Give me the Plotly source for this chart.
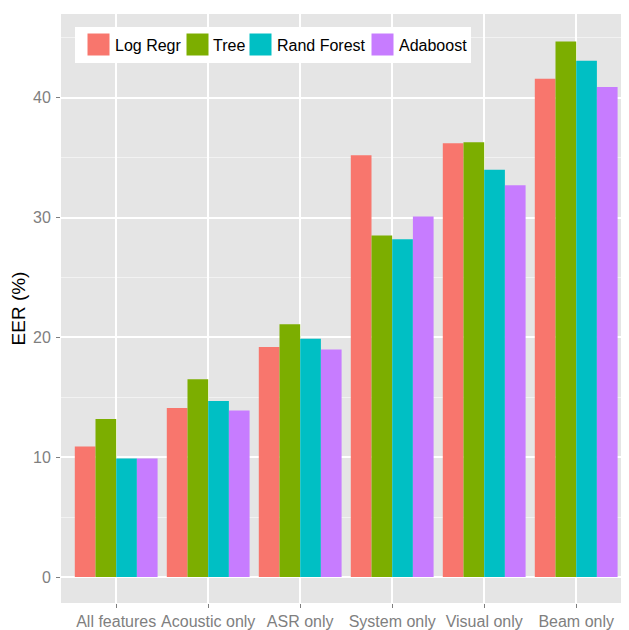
import plotly.graph_objects as go

categories = ["All features", "Acoustic only", "ASR only", "System only", "Visual only", "Beam only"]
series_names = ["Log Regr", "Tree", "Rand Forest", "Adaboost"]
log_regr = [10.9, 14.1, 19.2, 35.2, 36.2, 41.6]
tree = [13.2, 16.5, 21.1, 28.5, 36.3, 44.7]
rand_forest = [9.9, 14.7, 19.9, 28.2, 34.0, 43.1]
adaboost = [9.9, 13.9, 19.0, 30.1, 32.7, 40.9]
y_ticks = [0, 10, 20, 30, 40]

colors = ["#F8766D", "#7CAE00", "#00BFC4", "#C77CFF"]
values = [log_regr, tree, rand_forest, adaboost]

# page offset of the plot div (body margin) compensated
OFF = 8
W, H = 629 - OFF, 630 - OFF
PAN_L, PAN_T, PAN_B, PAN_R = 61, 14, 603, 629  # panel edges in page pixels
L, T = PAN_L - OFF, PAN_T - OFF
B = (OFF + H) - PAN_B
R = (OFF + W) - PAN_R
PW, PH = PAN_R - PAN_L, PAN_B - PAN_T

def px_x(p):
    return (p - PAN_L) / PW

def px_y(p):
    return (PAN_B - p) / PH

fig = go.Figure()
for name, vals, c in zip(series_names, values, colors):
    fig.add_trace(go.Bar(x=categories, y=vals, name=name, marker=dict(color=c, line=dict(width=0)),
                         showlegend=False))

FONT = "Liberation Sans, Arial, sans-serif"

fig.update_layout(
    width=W, height=H,
    margin=dict(l=L, r=R, t=T, b=B, autoexpand=False),
    paper_bgcolor="white",
    plot_bgcolor="#E5E5E5",
    barmode="group",
    bargap=0.1,
    bargroupgap=0,
    font=dict(family=FONT, size=16, color="#7F7F7F"),
    xaxis=dict(
        type="category",
        range=[-0.6, -0.6 + PW / 92.0],
        showgrid=True, gridcolor="white", gridwidth=1.5,
        ticks="outside", ticklen=4, tickcolor="#7F7F7F", tickwidth=1,
        tickfont=dict(family=FONT, size=16, color="#7F7F7F"),
        ticklabelstandoff=0,
        showline=False, zeroline=False, automargin=False,
    ),
    yaxis=dict(
        range=[-2.17, 47.0],
        tickvals=y_ticks,
        showgrid=True, gridcolor="white", gridwidth=1.5,
        minor=dict(tickvals=[5, 15, 25, 35, 45], showgrid=True, gridcolor="#F2F2F2", gridwidth=0.8, ticks=""),
        ticks="outside", ticklen=4, tickcolor="#7F7F7F", tickwidth=1,
        tickfont=dict(family=FONT, size=16, color="#7F7F7F"),
        ticklabelstandoff=2,
        showline=False, zeroline=False, automargin=False,
        title=dict(text="EER (%)", font=dict(family=FONT, size=19, color="black"), standoff=2),
    ),
)

shapes = [dict(type="rect", xref="paper", yref="paper",
               x0=px_x(75), x1=px_x(471), y0=px_y(63), y1=px_y(27),
               fillcolor="white", line=dict(width=0), layer="above")]
sw_x = [87, 186, 249, 371]
tx_x = [113, 211, 275, 397]
annotations = []
for i, (name, c) in enumerate(zip(series_names, colors)):
    shapes.append(dict(type="rect", xref="paper", yref="paper",
                       x0=px_x(sw_x[i]), x1=px_x(sw_x[i] + 23), y0=px_y(56), y1=px_y(33),
                       fillcolor=c, line=dict(width=1, color="white"), layer="above"))
    annotations.append(dict(xref="paper", yref="paper", x=px_x(tx_x[i]), y=px_y(45),
                            text=name, showarrow=False, xanchor="left", yanchor="middle",
                            font=dict(family=FONT, size=16, color="black")))
fig.update_layout(shapes=shapes, annotations=annotations)

fig.write_html("out.html")
